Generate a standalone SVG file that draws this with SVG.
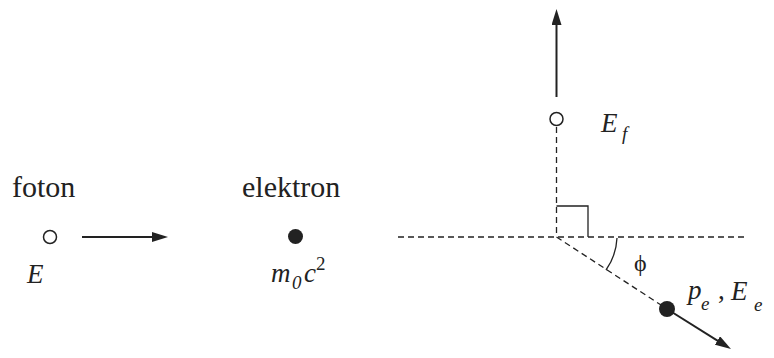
<svg xmlns="http://www.w3.org/2000/svg" width="774" height="358" viewBox="0 0 774 358" font-family="Liberation Serif, Times New Roman, serif">
<style>
.lbl{font-size:30px;fill:#222}
.m{font-style:italic;font-size:27px;fill:#222}
.s{font-style:italic;font-size:19px;fill:#222}
.up{font-style:normal}
.arr{stroke:#222;stroke-width:2;fill:none}
.dash{stroke:#222;stroke-width:1.3;stroke-dasharray:6 4;fill:none}
.thin{stroke:#222;stroke-width:1.3;fill:none}
.open{fill:#fff;stroke:#222;stroke-width:1.5}
.full{fill:#222}
</style>
<defs>
<marker id="ah" viewBox="0 0 16 10" markerWidth="16" markerHeight="10" refX="8" refY="5" orient="auto" markerUnits="userSpaceOnUse">
<path d="M0,0 L16,5 L0,10 Z" fill="#222"/>
</marker>
</defs>
<rect width="774" height="358" fill="#fff"/>
<g id="connectors">
<line class="arr" x1="82" y1="237" x2="160" y2="237" marker-end="url(#ah)"/>
<line class="arr" x1="556.5" y1="97" x2="556.5" y2="17" marker-end="url(#ah)"/>
<line class="dash" x1="556.5" y1="127" x2="556.5" y2="237"/>
<line class="dash" x1="398" y1="237" x2="748" y2="237"/>
<line class="dash" x1="556.5" y1="237" x2="661" y2="305"/>
<line class="arr" x1="667" y1="309" x2="724.2" y2="344.8" marker-end="url(#ah)"/>
</g>
<g id="angle">
<path class="thin" d="M556.5,206 H588 V237"/>
<path class="thin" d="M617,238 A60,60 0 0 1 606,270"/>
<text class="lbl up" x="634" y="271" style="font-size:24px">ϕ</text>
</g>
<g id="foton">
<text class="lbl" x="12" y="197">foton</text>
<circle class="open" cx="50" cy="237" r="6.5"/>
<text class="m" x="27" y="283">E</text>
</g>
<g id="elektron">
<text class="lbl" x="242" y="197">elektron</text>
<circle class="full" cx="295.5" cy="236.5" r="7.5"/>
<text class="m" x="271" y="282">m</text>
<text class="s" x="292" y="289">0</text>
<text class="m" x="304" y="282">c</text>
<text class="s up" x="316" y="270">2</text>
</g>
<g id="foton-scattered">
<circle class="open" cx="556.5" cy="119" r="6.5"/>
<text class="m" x="601" y="132">E</text>
<text class="s" x="622" y="140">f</text>
</g>
<g id="elektron-scattered">
<circle class="full" cx="667" cy="309" r="8"/>
<text class="m" x="688" y="299">p</text>
<text class="s" x="701" y="310">e</text>
<text class="m up" x="718" y="299">,</text>
<text class="m" x="731" y="300">E</text>
<text class="s" x="754" y="311">e</text>
</g>
</svg>
